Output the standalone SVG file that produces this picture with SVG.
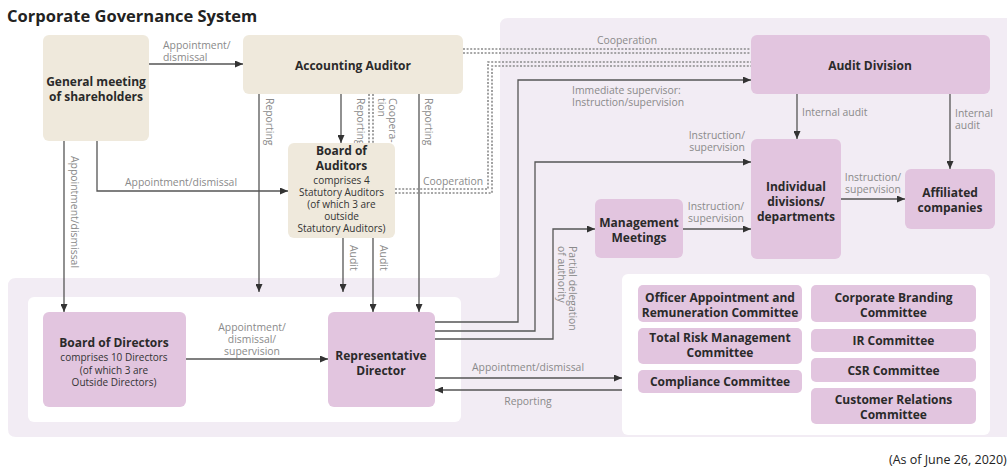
<svg xmlns="http://www.w3.org/2000/svg" width="1007" height="472" viewBox="0 0 1007 472">
<defs>
<marker id="ah" markerWidth="8" markerHeight="7" refX="8" refY="3.5" orient="auto" markerUnits="userSpaceOnUse">
<path d="M0,0 L8,3.5 L0,7 z" fill="#333"/>
</marker>
<style>
.t{font-family:"Open Sans","Noto Sans","Liberation Sans",sans-serif;}
.title{font-size:16.5px;font-weight:bold;fill:#222;}
.nb{font-size:12px;font-weight:bold;fill:#2a2a2a;text-anchor:middle;}
.ns{font-size:10px;fill:#333;text-anchor:middle;}
.lb{font-size:10.4px;fill:#8a8a8a;}
.mid{text-anchor:middle;}
.end{text-anchor:end;}
.beige{fill:#efe9dc;}
.lilac{fill:#e2c5df;}
.ln{fill:none;stroke:#555;stroke-width:1.3;}
.arr{marker-end:url(#ah);}
.dot{fill:none;stroke:#8a8a8a;stroke-width:1.6;stroke-dasharray:2 1.6;}
</style>
</defs>

<g id="background">
<path d="M508 18 H1010 V437 H16 Q8 437 8 429 V286 Q8 278 16 278 H492 Q500 278 500 270 V26 Q500 18 508 18 Z" fill="#f2ecf4"/>
<rect x="28" y="297" width="433" height="125" rx="6" fill="#fff"/>
<rect x="622" y="274" width="368" height="161" rx="6" fill="#fff"/>
</g>

<text class="t title" x="7" y="22">Corporate Governance System</text>

<g id="connectors">
<path class="ln arr" d="M149,64 H243"/>
<path class="ln arr" d="M97,141 V191 H288"/>
<path class="ln arr" d="M64,141 V312"/>
<path class="ln arr" d="M259,94 V292"/>
<path class="ln arr" d="M341,94 V143"/>
<path class="ln arr" d="M419,94 V312"/>
<path class="ln arr" d="M343,238 V292"/>
<path class="ln arr" d="M373,238 V312"/>
<path class="dot" d="M463,49 H751"/>
<path class="dot" d="M463,53 H751"/>
<path class="dot" d="M369,94 V143"/>
<path class="dot" d="M373,94 V143"/>
<path class="dot" d="M395,193 H492 V66 H751"/>
<path class="dot" d="M395,189 H488 V62 H751"/>
<path class="ln arr" d="M435,322 H518 V80 H751"/>
<path class="ln arr" d="M435,331 H535 V162 H751"/>
<path class="ln arr" d="M435,339 H553 V229 H595"/>
<path class="ln arr" d="M683,229 H751"/>
<path class="ln arr" d="M797,94 V139"/>
<path class="ln arr" d="M950,94 V169"/>
<path class="ln arr" d="M841,199 H905"/>
<path class="ln arr" d="M186,359 H328"/>
<path class="ln arr" d="M435,378 H622"/>
<path class="ln arr" d="M622,390 H435"/>

<g class="t lb">
<text x="163" y="48.5">Appointment/</text>
<text x="163" y="60.5">dismissal</text>
<text class="mid" x="181" y="185.5">Appointment/dismissal</text>
<text class="mid" x="627" y="43.5">Cooperation</text>
<text class="mid" x="453" y="184.5">Cooperation</text>
<text x="572" y="93.5">Immediate supervisor:</text>
<text x="572" y="105.5">Instruction/supervision</text>
<text class="end" x="745" y="138.5">Instruction/</text>
<text class="end" x="745" y="150.5">supervision</text>
<text class="mid" x="716" y="210">Instruction/</text>
<text class="mid" x="716" y="222">supervision</text>
<text x="802" y="116">Internal audit</text>
<text x="955" y="116.5">Internal</text>
<text x="955" y="128.5">audit</text>
<text class="mid" x="873" y="180.5">Instruction/</text>
<text class="mid" x="873" y="192.5">supervision</text>
<text class="mid" x="252" y="330.5">Appointment/</text>
<text class="mid" x="252" y="342.5">dismissal/</text>
<text class="mid" x="252" y="354.5">supervision</text>
<text class="mid" x="528" y="370.5">Appointment/dismissal</text>
<text class="mid" x="528" y="404.5">Reporting</text>
<text class="mid" dominant-baseline="central" transform="translate(75,212) rotate(90)">Appointment/dismissal</text>
<text dominant-baseline="central" transform="translate(270,98) rotate(90)">Reporting</text>
<text dominant-baseline="central" transform="translate(361,98) rotate(90)">Reporting</text>
<text dominant-baseline="central" transform="translate(393,98) rotate(90)">Coopera-</text>
<text dominant-baseline="central" transform="translate(382,98) rotate(90)">tion</text>
<text dominant-baseline="central" transform="translate(429,98) rotate(90)">Reporting</text>
<text dominant-baseline="central" transform="translate(354,245) rotate(90)">Audit</text>
<text dominant-baseline="central" transform="translate(384,245) rotate(90)">Audit</text>
<text dominant-baseline="central" transform="translate(573,246) rotate(90)">Partial delegation</text>
<text dominant-baseline="central" transform="translate(562,246) rotate(90)">of authority</text>
</g>
</g>

<g id="general-meeting">
<rect class="beige" x="43" y="35" width="106" height="106" rx="6"/>
<text class="t nb" x="96" y="86">General meeting</text>
<text class="t nb" x="96" y="101">of shareholders</text>
</g>

<g id="accounting-auditor">
<rect class="beige" x="243" y="35" width="220" height="59" rx="6"/>
<text class="t nb" x="353" y="70">Accounting Auditor</text>
</g>

<g id="board-of-auditors">
<rect class="beige" x="288" y="143" width="107" height="95" rx="6"/>
<text class="t nb" x="341.5" y="155">Board of</text>
<text class="t nb" x="341.5" y="170">Auditors</text>
<text class="t ns" x="341.5" y="184">comprises 4</text>
<text class="t ns" x="341.5" y="196">Statutory Auditors</text>
<text class="t ns" x="341.5" y="208">(of which 3 are</text>
<text class="t ns" x="341.5" y="220">outside</text>
<text class="t ns" x="341.5" y="232">Statutory Auditors)</text>
</g>

<g id="audit-division">
<rect class="lilac" x="751" y="35" width="239" height="59" rx="6"/>
<text class="t nb" x="870" y="70">Audit Division</text>
</g>

<g id="individual-divisions">
<rect class="lilac" x="751" y="139" width="90" height="120" rx="6"/>
<text class="t nb" x="796" y="191">Individual</text>
<text class="t nb" x="796" y="206">divisions/</text>
<text class="t nb" x="796" y="221">departments</text>
</g>

<g id="affiliated-companies">
<rect class="lilac" x="905" y="169" width="90" height="60" rx="6"/>
<text class="t nb" x="950" y="197">Affiliated</text>
<text class="t nb" x="950" y="212">companies</text>
</g>

<g id="management-meetings">
<rect class="lilac" x="595" y="199" width="88" height="59" rx="6"/>
<text class="t nb" x="639" y="227">Management</text>
<text class="t nb" x="639" y="242">Meetings</text>
</g>

<g id="board-of-directors">
<rect class="lilac" x="43" y="312" width="143" height="95" rx="6"/>
<text class="t nb" x="114" y="347">Board of Directors</text>
<text class="t ns" x="114" y="360.5">comprises 10 Directors</text>
<text class="t ns" x="114" y="373.5">(of which 3 are</text>
<text class="t ns" x="114" y="386">Outside Directors)</text>
</g>

<g id="representative-director">
<rect class="lilac" x="328" y="312" width="107" height="95" rx="6"/>
<text class="t nb" x="381" y="360">Representative</text>
<text class="t nb" x="381" y="375">Director</text>
</g>

<g id="officer-appointment-committee">
<rect class="lilac" x="638" y="285" width="164" height="37" rx="5"/>
<text class="t nb" x="720" y="302">Officer Appointment and</text>
<text class="t nb" x="720" y="317">Remuneration Committee</text>
</g>
<g id="total-risk-committee">
<rect class="lilac" x="638" y="328" width="164" height="36" rx="5"/>
<text class="t nb" x="720" y="342">Total Risk Management</text>
<text class="t nb" x="720" y="357">Committee</text>
</g>
<g id="compliance-committee">
<rect class="lilac" x="638" y="370" width="164" height="23" rx="5"/>
<text class="t nb" x="720" y="386">Compliance Committee</text>
</g>
<g id="corporate-branding-committee">
<rect class="lilac" x="811" y="285" width="165" height="37" rx="5"/>
<text class="t nb" x="893.5" y="302">Corporate Branding</text>
<text class="t nb" x="893.5" y="317">Committee</text>
</g>
<g id="ir-committee">
<rect class="lilac" x="811" y="329" width="165" height="23" rx="5"/>
<text class="t nb" x="893.5" y="345">IR Committee</text>
</g>
<g id="csr-committee">
<rect class="lilac" x="811" y="358" width="165" height="24" rx="5"/>
<text class="t nb" x="893.5" y="375">CSR Committee</text>
</g>
<g id="customer-relations-committee">
<rect class="lilac" x="811" y="388" width="165" height="36" rx="5"/>
<text class="t nb" x="893.5" y="404">Customer Relations</text>
<text class="t nb" x="893.5" y="419">Committee</text>
</g>

<text class="t" x="889" y="464" font-size="12.5" fill="#222">(As of June 26, 2020)</text>
</svg>
